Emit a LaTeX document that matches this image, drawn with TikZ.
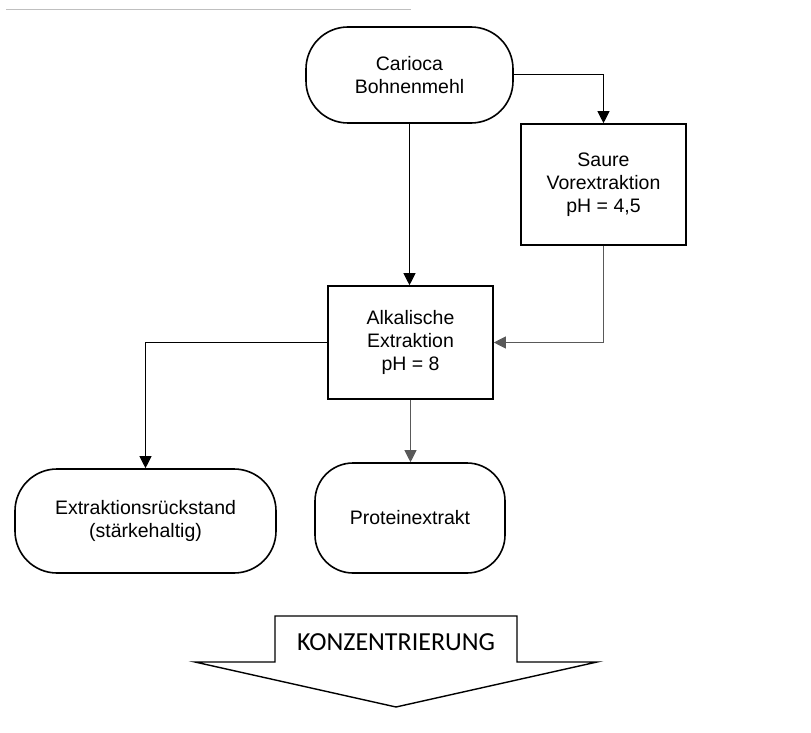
\documentclass[tikz,border=0pt]{standalone}
\usepackage{fontspec}
\setmainfont{Liberation Sans}
\newfontfamily\konzfont{Carlito}
\usetikzlibrary{arrows.meta}
\begin{document}
\begin{tikzpicture}[x=1pt,y=-1pt,
  boxtext/.style={font=\fontsize{19.5}{23}\selectfont, align=center, inner sep=0pt},
  procbox/.style={boxtext, draw, line width=1.6pt, rectangle},
  termbox/.style={boxtext, draw, line width=1.6pt, rectangle, rounded corners=42pt},
  conn/.style={line width=1pt, -{Triangle[width=12pt,length=12pt]}},
  gconn/.style={conn, draw=black!65}
]
\useasboundingbox (0,0) rectangle (811,733);
\draw[black!25, line width=1pt] (6,10) -- (411,10);

\node[termbox, minimum width=207pt, minimum height=96pt] (car) at (409.5,75) {Carioca\\Bohnenmehl};
\node[procbox, minimum width=165pt, minimum height=121pt] (sau) at (603.5,184.5) {Saure\\Vorextraktion\\pH  = 4,5};
\node[procbox, minimum width=165pt, minimum height=113pt] (alk) at (410.5,342.5) {Alkalische\\Extraktion\\pH  = 8};
\node[termbox, minimum width=261pt, minimum height=104pt] (ext) at (145.5,521) {Extraktionsrückstand\\(stärkehaltig)};
\node[termbox, rounded corners=38pt, minimum width=190pt, minimum height=110pt] (pro) at (410,518) {Proteinextrakt};

\draw[conn] (car.east) -| (sau.north);
\draw[conn] (car.south) -- (car.south |- alk.north);
\draw[gconn] (sau.south) |- (alk.east);
\draw[conn] (alk.west) -| (ext.north);
\draw[gconn] (alk.south) -- (alk.south |- pro.north);

\draw[line width=1.4pt, line join=miter] (275,616) -- (517,616) -- (517,662) -- (597,662) -- (396,707) -- (195,662) -- (275,662) -- cycle;
\node[font=\konzfont\fontsize{26}{30}\selectfont, inner sep=0pt] (konz) at (396,642) {KONZENTRIERUNG};
\end{tikzpicture}
\end{document}
